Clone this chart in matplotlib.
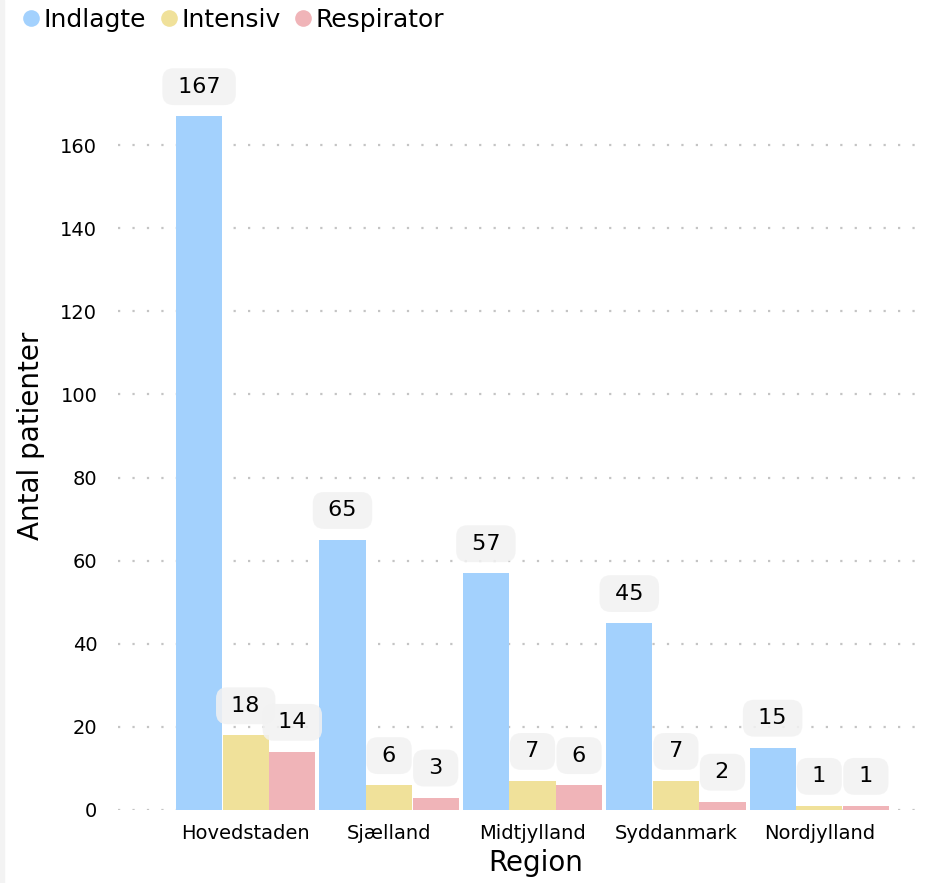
import matplotlib.pyplot as plt
from matplotlib.lines import Line2D
from matplotlib.patches import Rectangle
import numpy as np

regions = ['Hovedstaden', 'Sjælland', 'Midtjylland', 'Syddanmark', 'Nordjylland']
indlagte = [167, 65, 57, 45, 15]
intensiv = [18, 6, 7, 7, 1]
respirator = [14, 3, 6, 2, 1]

series = [('Indlagte', indlagte, '#a3d1fd'),
          ('Intensiv', intensiv, '#f0e19a'),
          ('Respirator', respirator, '#f0b4b8')]

plt.rcParams['font.family'] = ['DejaVu Sans']

fig = plt.figure(figsize=(9.3, 8.83), dpi=100)
ax = fig.add_axes([0.127, 0.0827, 0.868, 0.847])

x = np.arange(len(regions))
w = 0.325
for i, (name, vals, col) in enumerate(series):
    pos = x + (i - 1) * w
    ax.bar(pos, vals, width=w * 0.99, color=col, zorder=2)
    for px, v in zip(pos, vals):
        ax.annotate(' %d ' % v, (px, v), xytext=(0, 14), textcoords='offset points',
                    ha='center', va='bottom', fontsize=16, zorder=4,
                    bbox=dict(boxstyle='round,pad=0.38,rounding_size=0.5',
                              fc='#f2f2f2', ec='none', alpha=0.85))

ax.set_xlim(-0.89, 4.74)
ax.set_ylim(0, 180)
ax.set_yticks(range(0, 161, 20))
ax.set_xticks(x)
ax.set_xticklabels(regions)
ax.tick_params(axis='both', length=0, labelsize=14)
ax.tick_params(axis='y', pad=15)
ax.tick_params(axis='x', pad=10)
ax.grid(axis='y', color='#c4c4c4', linestyle=(0, (1, 5.5)), linewidth=1.6, zorder=0)
for s in ax.spines.values():
    s.set_visible(False)

ax.set_ylabel('Antal patienter', fontsize=20)
ax.set_xlabel('Region', fontsize=20)
ax.xaxis.set_label_coords(0.517, -0.052)
ax.yaxis.set_label_coords(-0.09, 0.5)

handles = [Line2D([], [], marker='o', linestyle='none', markersize=12,
                  markerfacecolor=c, markeredgecolor='none', label=n)
           for n, _, c in series]
fig.legend(handles=handles, loc='upper left', bbox_to_anchor=(0.004, 1.008), ncol=3,
           frameon=False, fontsize=18, handletextpad=0.0, columnspacing=0.4,
           handlelength=1.0, borderaxespad=0.2)

fig.patches.append(Rectangle((0, 0), 0.004, 1, transform=fig.transFigure,
                             color='#f3f3f3', zorder=0))

fig.savefig('out.png', dpi=100)
